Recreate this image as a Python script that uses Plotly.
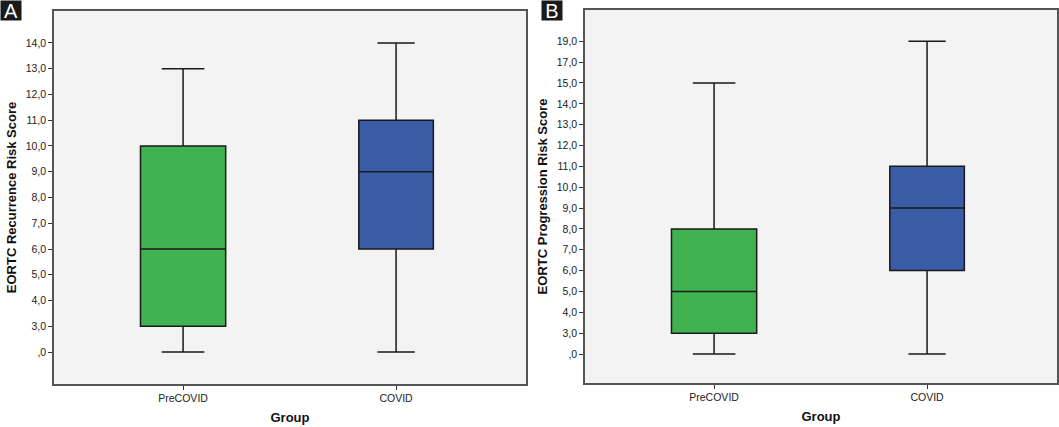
import plotly.graph_objects as go

# y axes are ordinal in the original (only observed scores are listed)
groups = ["PreCOVID", "COVID"]

rec_levels = [0, 3, 4, 5, 6, 7, 8, 9, 10, 11, 12, 13, 14]
rec_ticks = [",0", "3,0", "4,0", "5,0", "6,0", "7,0", "8,0", "9,0", "10,0",
             "11,0", "12,0", "13,0", "14,0"]
# min, q1, median, q3, max
rec_pre = [0, 3, 6, 10, 13]
rec_covid = [0, 6, 9, 11, 14]

prog_levels = [0, 3, 4, 5, 6, 7, 8, 9, 10, 11, 12, 13, 14, 15, 17, 19]
prog_ticks = [",0", "3,0", "4,0", "5,0", "6,0", "7,0", "8,0", "9,0", "10,0",
              "11,0", "12,0", "13,0", "14,0", "15,0", "17,0", "19,0"]
prog_pre = [0, 3, 5, 8, 15]
prog_covid = [0, 6, 9, 11, 19]

colors = ["rgb(64,178,80)", "rgb(58,92,166)"]
widths = [0.40, 0.35]

FONT = "Liberation Sans, Arial"


def box(name, stats, levels, color, w, xa, ya):
    pos = [levels.index(v) for v in stats]
    return go.Box(
        x=[name], lowerfence=[pos[0]], q1=[pos[1]], median=[pos[2]],
        q3=[pos[3]], upperfence=[pos[4]],
        fillcolor=color, line=dict(color="#1a1a1a", width=1.5),
        width=w, whiskerwidth=0.5, showlegend=False, hoverinfo="skip",
        xaxis=xa, yaxis=ya)


fig = go.Figure()
for g, s, c, w in zip(groups, [rec_pre, rec_covid], colors, widths):
    fig.add_trace(box(g, s, rec_levels, c, w, "x", "y"))
for g, s, c, w in zip(groups, [prog_pre, prog_covid], colors, widths):
    fig.add_trace(box(g, s, prog_levels, c, w, "x2", "y2"))

axis_line = dict(showline=True, linecolor="#555555", linewidth=1.5, mirror=True,
                 ticks="outside", ticklen=4, tickcolor="#333333",
                 showgrid=False, zeroline=False, automargin=False,
                 tickfont=dict(family=FONT, size=10.5, color="#222222"))
xtitle = dict(text="<b>Group</b>", font=dict(family=FONT, size=13, color="#111"),
              standoff=10)


def panel_label(letter, x):
    return dict(text=letter, x=x, y=1, xref="paper", yref="paper",
                xanchor="left", yanchor="top", showarrow=False,
                bgcolor="#1a1a1a", borderpad=0, width=20, height=19,
                font=dict(family=FONT, size=20, color="white"))


fig.update_layout(
    width=1059, height=427,
    margin=dict(l=0, r=0, t=0, b=0),
    paper_bgcolor="white", plot_bgcolor="#f3f3f3",
    xaxis=dict(domain=[54 / 1059, 526 / 1059], range=[-0.606, 1.61],
               type="category", title=xtitle, **axis_line),
    yaxis=dict(domain=[1 - 384 / 427, 1 - 11 / 427], range=[-1.24, 13.24],
               tickvals=list(range(len(rec_levels))), ticktext=rec_ticks,
               title=dict(text="<b>EORTC Recurrence Risk Score</b>",
                          font=dict(family=FONT, size=13, color="#111"),
                          standoff=6),
               **axis_line),
    xaxis2=dict(domain=[585 / 1059, 1057 / 1059], range=[-0.606, 1.61],
                type="category", anchor="y2", title=xtitle, **axis_line),
    yaxis2=dict(domain=[1 - 383 / 427, 1 - 10 / 427], range=[-1.39, 16.5],
                anchor="x2",
                tickvals=list(range(len(prog_levels))), ticktext=prog_ticks,
                title=dict(text="<b>EORTC Progression Risk Score</b>",
                           font=dict(family=FONT, size=13, color="#111"),
                           standoff=6),
                **axis_line),
    annotations=[panel_label("A", 0), panel_label("B", 541 / 1059)],
)

# the page's default body margin would push the figure 8px off the window
fig.write_html("out.html", config={"displayModeBar": False},
               post_script="document.body.style.margin='0px';"
                           "document.body.style.overflow='hidden';")
